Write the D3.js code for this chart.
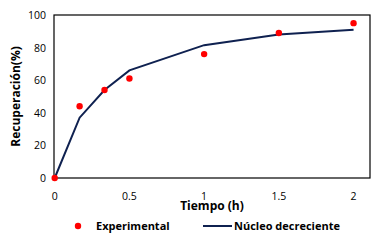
<!DOCTYPE html>
<html>
<head>
<meta charset="utf-8">
<script src="https://cdn.jsdelivr.net/npm/d3@7"></script>
<style>
  body { margin: 0; background: #fff; }
  text { font-family: "Open Sans", "DejaVu Sans", sans-serif; }
</style>
</head>
<body>
<div id="chart"></div>
<script>
const expTime = [0, 0.1667, 0.3333, 0.5, 1, 1.5, 2];
const expRec = [0, 44, 54, 61, 76, 89, 95];
const modelTime = [0, 0.1667, 0.3333, 0.5, 1, 1.5, 2];
const modelRec = [0, 37, 54, 66, 81.5, 88, 91];
const xTicks = [0, 0.5, 1, 1.5, 2];
const yTicks = [0, 20, 40, 60, 80, 100];

const W = 379, H = 241;
const margin = { top: 15, right: 9, bottom: 63, left: 54 };

const svg = d3.select("#chart").append("svg")
  .attr("width", W).attr("height", H);

const x = d3.scaleLinear().domain([0, 2.11]).range([margin.left + 0.7, W - margin.right]);
const y = d3.scaleLinear().domain([0, 100]).range([H - margin.bottom, margin.top]);

// plot box
svg.append("rect")
  .attr("x", margin.left).attr("y", margin.top)
  .attr("width", W - margin.right - margin.left)
  .attr("height", H - margin.bottom - margin.top)
  .attr("fill", "none").attr("stroke", "#000").attr("stroke-width", 1.2);

// tick labels
svg.append("g").selectAll("text").data(yTicks).enter().append("text")
  .attr("x", margin.left - 8).attr("y", (d) => y(d) + 4)
  .attr("text-anchor", "end").style("font-size", "10.5px").text((d) => d);

svg.append("g").selectAll("text").data(xTicks).enter().append("text")
  .attr("x", (d) => x(d)).attr("y", H - margin.bottom + 22)
  .attr("text-anchor", "middle").style("font-size", "10.5px").text((d) => d);

// axis titles
svg.append("text")
  .attr("x", 212).attr("y", 210)
  .attr("text-anchor", "middle").style("font-size", "12px").style("font-weight", "bold")
  .text("Tiempo (h)");

svg.append("text")
  .attr("transform", `translate(20, ${(margin.top + H - margin.bottom) / 2}) rotate(-90)`)
  .attr("text-anchor", "middle").style("font-size", "12px").style("font-weight", "bold")
  .text("Recuperación(%)");

// model line
const line = d3.line().x((d) => x(d[0])).y((d) => y(d[1]));
svg.append("path")
  .datum(d3.zip(modelTime, modelRec))
  .attr("d", line)
  .attr("fill", "none").attr("stroke", "#0f2150").attr("stroke-width", 2);

// experimental points
svg.append("g").selectAll("circle").data(d3.zip(expTime, expRec)).enter().append("circle")
  .attr("cx", (d) => x(d[0])).attr("cy", (d) => y(d[1]))
  .attr("r", 3.2).attr("fill", "#ff0000");

// legend
const legend = svg.append("g");
legend.append("circle").attr("cx", 78).attr("cy", 226).attr("r", 3.2).attr("fill", "#ff0000");
legend.append("text").attr("x", 96).attr("y", 230)
  .style("font-size", "11px").style("font-weight", "bold").text("Experimental");
legend.append("line").attr("x1", 203).attr("x2", 232).attr("y1", 226).attr("y2", 226)
  .attr("stroke", "#0f2150").attr("stroke-width", 2);
legend.append("text").attr("x", 234).attr("y", 230)
  .style("font-size", "11px").style("font-weight", "bold").text("Núcleo decreciente");
</script>
</body>
</html>
